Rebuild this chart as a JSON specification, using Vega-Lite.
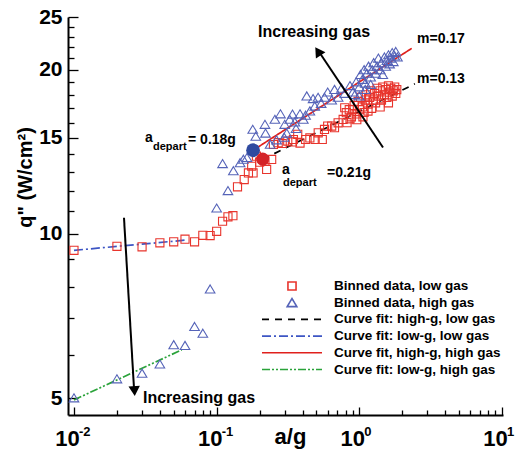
{
  "$schema": "https://vega.github.io/schema/vega-lite/v6.json",
  "width": 435,
  "height": 398,
  "autosize": {"type": "none"},
  "padding": {"left": 68, "top": 17, "right": 14, "bottom": 44},
  "background": "white",
  "config": {"view": {"stroke": null}, "font": "Liberation Sans"},
  "datasets": {
    "pts": [
      {"a":0.01,"q":9.33,"series":"Binned data, low gas"},
      {"a":0.02,"q":9.49,"series":"Binned data, low gas"},
      {"a":0.03,"q":9.47,"series":"Binned data, low gas"},
      {"a":0.04,"q":9.63,"series":"Binned data, low gas"},
      {"a":0.05,"q":9.67,"series":"Binned data, low gas"},
      {"a":0.06,"q":9.78,"series":"Binned data, low gas"},
      {"a":0.07,"q":9.67,"series":"Binned data, low gas"},
      {"a":0.08,"q":9.94,"series":"Binned data, low gas"},
      {"a":0.09,"q":9.93,"series":"Binned data, low gas"},
      {"a":0.1,"q":10.11,"series":"Binned data, low gas"},
      {"a":0.11,"q":10.55,"series":"Binned data, low gas"},
      {"a":0.12,"q":10.75,"series":"Binned data, low gas"},
      {"a":0.13,"q":10.8,"series":"Binned data, low gas"},
      {"a":0.14,"q":12.2,"series":"Binned data, low gas"},
      {"a":0.156,"q":12.58,"series":"Binned data, low gas"},
      {"a":0.167,"q":12.94,"series":"Binned data, low gas"},
      {"a":0.18,"q":12.94,"series":"Binned data, low gas"},
      {"a":0.176,"q":13.31,"series":"Binned data, low gas"},
      {"a":0.19,"q":13.89,"series":"Binned data, low gas"},
      {"a":0.2,"q":13.54,"series":"Binned data, low gas"},
      {"a":0.224,"q":13.13,"series":"Binned data, low gas"},
      {"a":0.218,"q":13.6,"series":"Binned data, low gas"},
      {"a":0.243,"q":13.7,"series":"Binned data, low gas"},
      {"a":0.25,"q":14.59,"series":"Binned data, low gas"},
      {"a":0.27,"q":14.7,"series":"Binned data, low gas"},
      {"a":0.288,"q":14.65,"series":"Binned data, low gas"},
      {"a":0.315,"q":14.8,"series":"Binned data, low gas"},
      {"a":0.34,"q":14.75,"series":"Binned data, low gas"},
      {"a":0.345,"q":14.9,"series":"Binned data, low gas"},
      {"a":0.37,"q":15.23,"series":"Binned data, low gas"},
      {"a":0.384,"q":14.68,"series":"Binned data, low gas"},
      {"a":0.42,"q":14.9,"series":"Binned data, low gas"},
      {"a":0.45,"q":15.0,"series":"Binned data, low gas"},
      {"a":0.49,"q":14.9,"series":"Binned data, low gas"},
      {"a":0.515,"q":15.33,"series":"Binned data, low gas"},
      {"a":0.55,"q":14.9,"series":"Binned data, low gas"},
      {"a":0.57,"q":15.55,"series":"Binned data, low gas"},
      {"a":0.6,"q":15.77,"series":"Binned data, low gas"},
      {"a":0.64,"q":15.77,"series":"Binned data, low gas"},
      {"a":0.67,"q":15.66,"series":"Binned data, low gas"},
      {"a":0.71,"q":15.99,"series":"Binned data, low gas"},
      {"a":0.77,"q":16.22,"series":"Binned data, low gas"},
      {"a":0.81,"q":16.69,"series":"Binned data, low gas"},
      {"a":0.86,"q":16.26,"series":"Binned data, low gas"},
      {"a":0.9,"q":16.92,"series":"Binned data, low gas"},
      {"a":0.79,"q":17.04,"series":"Binned data, low gas"},
      {"a":0.82,"q":16.0,"series":"Binned data, low gas"},
      {"a":0.85,"q":16.9,"series":"Binned data, low gas"},
      {"a":0.88,"q":16.4,"series":"Binned data, low gas"},
      {"a":0.92,"q":17.2,"series":"Binned data, low gas"},
      {"a":0.95,"q":16.6,"series":"Binned data, low gas"},
      {"a":0.98,"q":17.5,"series":"Binned data, low gas"},
      {"a":1.0,"q":16.9,"series":"Binned data, low gas"},
      {"a":1.02,"q":17.8,"series":"Binned data, low gas"},
      {"a":1.05,"q":17.1,"series":"Binned data, low gas"},
      {"a":1.08,"q":16.7,"series":"Binned data, low gas"},
      {"a":1.1,"q":17.6,"series":"Binned data, low gas"},
      {"a":1.12,"q":18.0,"series":"Binned data, low gas"},
      {"a":1.15,"q":17.3,"series":"Binned data, low gas"},
      {"a":1.18,"q":17.8,"series":"Binned data, low gas"},
      {"a":1.2,"q":18.3,"series":"Binned data, low gas"},
      {"a":1.22,"q":17.0,"series":"Binned data, low gas"},
      {"a":1.25,"q":17.6,"series":"Binned data, low gas"},
      {"a":1.28,"q":18.1,"series":"Binned data, low gas"},
      {"a":1.3,"q":17.4,"series":"Binned data, low gas"},
      {"a":1.33,"q":18.5,"series":"Binned data, low gas"},
      {"a":1.36,"q":17.9,"series":"Binned data, low gas"},
      {"a":1.4,"q":18.3,"series":"Binned data, low gas"},
      {"a":1.43,"q":17.6,"series":"Binned data, low gas"},
      {"a":1.46,"q":18.6,"series":"Binned data, low gas"},
      {"a":1.5,"q":18.0,"series":"Binned data, low gas"},
      {"a":1.53,"q":18.4,"series":"Binned data, low gas"},
      {"a":1.56,"q":17.8,"series":"Binned data, low gas"},
      {"a":1.6,"q":18.7,"series":"Binned data, low gas"},
      {"a":1.63,"q":18.2,"series":"Binned data, low gas"},
      {"a":1.66,"q":18.5,"series":"Binned data, low gas"},
      {"a":1.7,"q":17.9,"series":"Binned data, low gas"},
      {"a":1.73,"q":18.3,"series":"Binned data, low gas"},
      {"a":1.77,"q":18.6,"series":"Binned data, low gas"},
      {"a":1.8,"q":18.1,"series":"Binned data, low gas"},
      {"a":1.83,"q":18.4,"series":"Binned data, low gas"},
      {"a":0.96,"q":16.2,"series":"Binned data, low gas"},
      {"a":1.06,"q":16.4,"series":"Binned data, low gas"},
      {"a":1.15,"q":16.8,"series":"Binned data, low gas"},
      {"a":1.4,"q":17.1,"series":"Binned data, low gas"},
      {"a":1.6,"q":17.4,"series":"Binned data, low gas"},
      {"a":0.01,"q":5.0,"series":"Binned data, high gas"},
      {"a":0.02,"q":5.42,"series":"Binned data, high gas"},
      {"a":0.03,"q":5.55,"series":"Binned data, high gas"},
      {"a":0.04,"q":5.77,"series":"Binned data, high gas"},
      {"a":0.05,"q":6.26,"series":"Binned data, high gas"},
      {"a":0.06,"q":6.24,"series":"Binned data, high gas"},
      {"a":0.07,"q":6.76,"series":"Binned data, high gas"},
      {"a":0.08,"q":6.57,"series":"Binned data, high gas"},
      {"a":0.09,"q":7.92,"series":"Binned data, high gas"},
      {"a":0.1,"q":11.15,"series":"Binned data, high gas"},
      {"a":0.11,"q":13.45,"series":"Binned data, high gas"},
      {"a":0.12,"q":12.0,"series":"Binned data, high gas"},
      {"a":0.131,"q":13.05,"series":"Binned data, high gas"},
      {"a":0.146,"q":13.5,"series":"Binned data, high gas"},
      {"a":0.154,"q":13.7,"series":"Binned data, high gas"},
      {"a":0.163,"q":13.8,"series":"Binned data, high gas"},
      {"a":0.179,"q":15.55,"series":"Binned data, high gas"},
      {"a":0.188,"q":15.1,"series":"Binned data, high gas"},
      {"a":0.218,"q":15.88,"series":"Binned data, high gas"},
      {"a":0.22,"q":15.3,"series":"Binned data, high gas"},
      {"a":0.237,"q":14.6,"series":"Binned data, high gas"},
      {"a":0.256,"q":16.22,"series":"Binned data, high gas"},
      {"a":0.263,"q":14.87,"series":"Binned data, high gas"},
      {"a":0.28,"q":16.6,"series":"Binned data, high gas"},
      {"a":0.297,"q":15.04,"series":"Binned data, high gas"},
      {"a":0.3,"q":15.88,"series":"Binned data, high gas"},
      {"a":0.31,"q":15.3,"series":"Binned data, high gas"},
      {"a":0.325,"q":16.22,"series":"Binned data, high gas"},
      {"a":0.34,"q":16.58,"series":"Binned data, high gas"},
      {"a":0.353,"q":16.04,"series":"Binned data, high gas"},
      {"a":0.36,"q":15.6,"series":"Binned data, high gas"},
      {"a":0.384,"q":16.6,"series":"Binned data, high gas"},
      {"a":0.405,"q":16.22,"series":"Binned data, high gas"},
      {"a":0.42,"q":16.5,"series":"Binned data, high gas"},
      {"a":0.428,"q":17.9,"series":"Binned data, high gas"},
      {"a":0.45,"q":16.8,"series":"Binned data, high gas"},
      {"a":0.474,"q":17.7,"series":"Binned data, high gas"},
      {"a":0.487,"q":17.15,"series":"Binned data, high gas"},
      {"a":0.514,"q":17.8,"series":"Binned data, high gas"},
      {"a":0.54,"q":17.35,"series":"Binned data, high gas"},
      {"a":0.57,"q":17.8,"series":"Binned data, high gas"},
      {"a":0.6,"q":18.2,"series":"Binned data, high gas"},
      {"a":0.64,"q":17.6,"series":"Binned data, high gas"},
      {"a":0.67,"q":18.4,"series":"Binned data, high gas"},
      {"a":0.71,"q":17.8,"series":"Binned data, high gas"},
      {"a":0.75,"q":18.5,"series":"Binned data, high gas"},
      {"a":0.79,"q":18.1,"series":"Binned data, high gas"},
      {"a":0.86,"q":18.7,"series":"Binned data, high gas"},
      {"a":0.9,"q":18.2,"series":"Binned data, high gas"},
      {"a":0.93,"q":18.0,"series":"Binned data, high gas"},
      {"a":0.95,"q":19.0,"series":"Binned data, high gas"},
      {"a":1.0,"q":18.6,"series":"Binned data, high gas"},
      {"a":1.0,"q":17.9,"series":"Binned data, high gas"},
      {"a":1.02,"q":19.6,"series":"Binned data, high gas"},
      {"a":1.05,"q":19.2,"series":"Binned data, high gas"},
      {"a":1.08,"q":20.0,"series":"Binned data, high gas"},
      {"a":1.1,"q":18.9,"series":"Binned data, high gas"},
      {"a":1.1,"q":18.4,"series":"Binned data, high gas"},
      {"a":1.13,"q":19.7,"series":"Binned data, high gas"},
      {"a":1.16,"q":20.3,"series":"Binned data, high gas"},
      {"a":1.2,"q":19.4,"series":"Binned data, high gas"},
      {"a":1.2,"q":18.8,"series":"Binned data, high gas"},
      {"a":1.23,"q":20.0,"series":"Binned data, high gas"},
      {"a":1.26,"q":20.6,"series":"Binned data, high gas"},
      {"a":1.3,"q":19.7,"series":"Binned data, high gas"},
      {"a":1.33,"q":20.3,"series":"Binned data, high gas"},
      {"a":1.36,"q":21.0,"series":"Binned data, high gas"},
      {"a":1.4,"q":20.0,"series":"Binned data, high gas"},
      {"a":1.43,"q":20.6,"series":"Binned data, high gas"},
      {"a":1.46,"q":19.6,"series":"Binned data, high gas"},
      {"a":1.5,"q":21.1,"series":"Binned data, high gas"},
      {"a":1.53,"q":20.3,"series":"Binned data, high gas"},
      {"a":1.56,"q":20.8,"series":"Binned data, high gas"},
      {"a":1.6,"q":21.3,"series":"Binned data, high gas"},
      {"a":1.63,"q":20.5,"series":"Binned data, high gas"},
      {"a":1.66,"q":21.0,"series":"Binned data, high gas"},
      {"a":1.7,"q":21.5,"series":"Binned data, high gas"},
      {"a":1.73,"q":20.7,"series":"Binned data, high gas"},
      {"a":1.77,"q":21.2,"series":"Binned data, high gas"},
      {"a":1.8,"q":21.6,"series":"Binned data, high gas"},
      {"a":1.85,"q":21.1,"series":"Binned data, high gas"}
    ],
    "fits": [
      {"a":0.21,"q":13.7,"series":"Curve fit: high-g, low gas"},
      {"a":2.45,"q":18.85,"series":"Curve fit: high-g, low gas"},
      {"a":0.01,"q":9.33,"series":"Curve fit: low-g, low gas"},
      {"a":0.06,"q":9.74,"series":"Curve fit: low-g, low gas"},
      {"a":0.18,"q":14.24,"series":"Curve fit, high-g, high gas"},
      {"a":2.33,"q":21.9,"series":"Curve fit, high-g, high gas"},
      {"a":0.01,"q":4.96,"series":"Curve fit: low-g, high gas"},
      {"a":0.057,"q":6.13,"series":"Curve fit: low-g, high gas"}
    ],
    "arrows": [
      {"a":0.02241,"q":10.71,"a2":0.02634,"q2":5.21},
      {"a":1.465,"q":14.41,"a2":0.53,"q2":21.45}
    ],
    "exponents": [
      {"a":0.01,"q":4.654,"e":"-2"},
      {"a":0.1,"q":4.654,"e":"-1"},
      {"a":1,"q":4.654,"e":"0"},
      {"a":10,"q":4.654,"e":"1"}
    ]
  },
  "encoding": {
    "x": {
      "field": "a", "type": "quantitative",
      "scale": {"type": "log", "domain": [0.00908, 10.16], "nice": false},
      "axis": {
        "title": "a/g", "titleFont": "Liberation Sans", "titleFontSize": 22, "titleFontWeight": "bold", "titleColor": "black",
        "titleX": 222, "titleY": 21, "titleBaseline": "middle", "titleAlign": "center",
        "values": [0.01,0.02,0.03,0.04,0.05,0.06,0.07,0.08,0.09,0.1,0.2,0.3,0.4,0.5,0.6,0.7,0.8,0.9,1,2,3,4,5,6,7,8,9,10],
        "labelExpr": "indexof([0.01,0.1,1,10], datum.value) >= 0 ? '10' : ''",
        "labelFont": "Liberation Sans", "labelFontSize": 22, "labelFontWeight": "bold", "labelColor": "black",
        "labelPadding": 21, "labelOffset": -7, "labelFlush": false, "labelOverlap": false, "labelBaseline": "top",
        "tickSize": {"condition": {"test": "indexof([0.01,0.1,1,10], datum.value) >= 0", "value": -8}, "value": -5},
        "tickColor": "black", "tickWidth": 1.3, "domainColor": "black", "domainWidth": 2, "grid": false
      }
    },
    "y": {
      "field": "q", "type": "quantitative",
      "scale": {"type": "log", "domain": [4.654, 25], "nice": false},
      "axis": {
        "title": "q\" (W/cm²)", "titleFont": "Liberation Sans", "titleFontSize": 20, "titleFontWeight": "bold", "titleColor": "black",
        "titleX": -43, "titleY": 160, "titleAngle": -90, "titleBaseline": "middle", "titleAlign": "center",
        "values": [5,6,7,8,9,10,11,12,13,14,15,16,17,18,19,20,21,22,23,24,25],
        "labelExpr": "datum.value % 5 == 0 ? datum.value : ''",
        "labelFont": "Liberation Sans", "labelFontSize": 21, "labelFontWeight": "bold", "labelColor": "black",
        "labelPadding": 16, "labelOverlap": false, "labelFlush": false,
        "tickSize": {"condition": {"test": "datum.value % 5 == 0", "value": -10}, "value": -6},
        "tickColor": "black", "tickWidth": 1.3, "domainColor": "black", "domainWidth": 2, "grid": false
      }
    }
  },
  "layer": [
    {
      "data": {"name": "fits"},
      "mark": {"type": "line", "strokeWidth": 1.7},
      "encoding": {
        "color": {"field": "series", "type": "nominal",
          "scale": {"domain": ["Binned data, low gas","Binned data, high gas","Curve fit: high-g, low gas","Curve fit: low-g, low gas","Curve fit, high-g, high gas","Curve fit: low-g, high gas"],
                    "range": ["#e8342c","#5563b8","#000000","#3d55c4","#e0201c","#2aa33a"]},
          "legend": {"title": null, "orient": "none", "legendX": 193, "legendY": 261, "symbolSize": 3600, "clipHeight": 16, "rowPadding": 0.7, "labelOffset": 11, "labelFont": "Liberation Sans", "labelFontSize": 13.5, "labelFontWeight": "bold", "labelColor": "black", "labelLimit": 400, "symbolStrokeWidth": 1.6, "padding": 0, "offset": 0}},
        "strokeDash": {"field": "series", "type": "nominal",
          "scale": {"domain": ["Binned data, low gas","Binned data, high gas","Curve fit: high-g, low gas","Curve fit: low-g, low gas","Curve fit, high-g, high gas","Curve fit: low-g, high gas"],
                    "range": [[1,0],[1,0],[7,6],[9,3,2,3],[1,0],[8,2,2,2,2,2]]},
          "legend": {"title": null, "orient": "none", "legendX": 193, "legendY": 261, "symbolSize": 3600, "clipHeight": 16, "rowPadding": 0.7, "labelOffset": 11, "labelFont": "Liberation Sans", "labelFontSize": 13.5, "labelFontWeight": "bold", "labelColor": "black", "labelLimit": 400, "symbolStrokeWidth": 1.6, "padding": 0, "offset": 0}}
      }
    },
    {
      "data": {"name": "pts"},
      "mark": {"type": "point", "filled": false, "size": 3600, "strokeWidth": 1.1, "opacity": 1},
      "encoding": {
        "color": {"field": "series", "type": "nominal",
          "scale": {"domain": ["Binned data, low gas","Binned data, high gas","Curve fit: high-g, low gas","Curve fit: low-g, low gas","Curve fit, high-g, high gas","Curve fit: low-g, high gas"],
                    "range": ["#e8342c","#5563b8","#000000","#3d55c4","#e0201c","#2aa33a"]},
          "legend": {"title": null, "orient": "none", "legendX": 193, "legendY": 261, "symbolSize": 3600, "clipHeight": 16, "rowPadding": 0.7, "labelOffset": 11, "labelFont": "Liberation Sans", "labelFontSize": 13.5, "labelFontWeight": "bold", "labelColor": "black", "labelLimit": 400, "symbolStrokeWidth": 1.6, "padding": 0, "offset": 0}},
        "shape": {"field": "series", "type": "nominal",
          "scale": {"domain": ["Binned data, low gas","Binned data, high gas","Curve fit: high-g, low gas","Curve fit: low-g, low gas","Curve fit, high-g, high gas","Curve fit: low-g, high gas"],
                    "range": ["M-0.135,-0.135L0.135,-0.135L0.135,0.135L-0.135,0.135Z","M0,-0.14L0.16,0.13L-0.16,0.13Z","M-1,0L1,0","M-1,0L1,0","M-1,0L1,0","M-1,0L1,0"]},
          "legend": {"title": null, "orient": "none", "legendX": 193, "legendY": 261, "symbolSize": 3600, "clipHeight": 16, "rowPadding": 0.7, "labelOffset": 11, "labelFont": "Liberation Sans", "labelFontSize": 13.5, "labelFontWeight": "bold", "labelColor": "black", "labelLimit": 400, "symbolStrokeWidth": 1.6, "padding": 0, "offset": 0}}
      }
    },
    {
      "data": {"values": [{"a": 0.18, "q": 14.24}]},
      "mark": {"type": "point", "shape": "circle", "filled": true, "size": 190, "color": "#2f4aa0", "opacity": 1}
    },
    {
      "data": {"values": [{"a": 0.21, "q": 13.72}]},
      "mark": {"type": "point", "shape": "circle", "filled": true, "size": 170, "color": "#d42428", "opacity": 1}
    },
    {
      "data": {"name": "arrows"},
      "mark": {"type": "rule", "color": "black", "strokeWidth": 2},
      "encoding": {"x2": {"field": "a2"}, "y2": {"field": "q2"}}
    },
    {
      "data": {"values": [{"a": 0.02655, "q": 5.15}]},
      "mark": {"type": "point", "shape": "triangle-down", "filled": true, "size": 130, "color": "black", "opacity": 1, "angle": 356.5}
    },
    {
      "data": {"values": [{"a": 0.5129, "q": 21.63}]},
      "mark": {"type": "point", "shape": "triangle-up", "filled": true, "size": 130, "color": "black", "opacity": 1, "angle": 326.6}
    },
    {
      "data": {"name": "exponents"},
      "mark": {"type": "text", "align": "left", "baseline": "middle", "font": "Liberation Sans", "fontSize": 13, "fontWeight": "bold", "color": "black", "dx": 5, "dy": 17},
      "encoding": {"text": {"field": "e"}}
    },
    {
      "data": {"values": [{"a": 0.1949, "q": 23.44, "label": "Increasing gas"}, {"a": 0.03046, "q": 5.0, "label": "Increasing gas"}]},
      "mark": {"type": "text", "align": "left", "baseline": "middle", "font": "Liberation Sans", "fontSize": 16, "fontWeight": "bold", "color": "black"},
      "encoding": {"text": {"field": "label"}}
    },
    {
      "data": {"values": [{"a": 2.536, "q": 22.76, "label": "m=0.17"}, {"a": 2.536, "q": 19.21, "label": "m=0.13"}, {"a": 0.03146, "q": 14.97, "label": "a"}, {"a": 0.063, "q": 14.84, "label": "= 0.18g"}, {"a": 0.2871, "q": 13.1, "label": "a"}, {"a": 0.5933, "q": 12.96, "label": "=0.21g"}]},
      "mark": {"type": "text", "align": "left", "baseline": "middle", "font": "Liberation Sans", "fontSize": 14, "fontWeight": "bold", "color": "black"},
      "encoding": {"text": {"field": "label"}}
    },
    {
      "data": {"values": [{"a": 0.03579, "q": 14.41, "label": "depart"}, {"a": 0.2917, "q": 12.4, "label": "depart"}]},
      "mark": {"type": "text", "align": "left", "baseline": "middle", "font": "Liberation Sans", "fontSize": 11, "fontWeight": "bold", "color": "black"},
      "encoding": {"text": {"field": "label"}}
    }
  ]
}
